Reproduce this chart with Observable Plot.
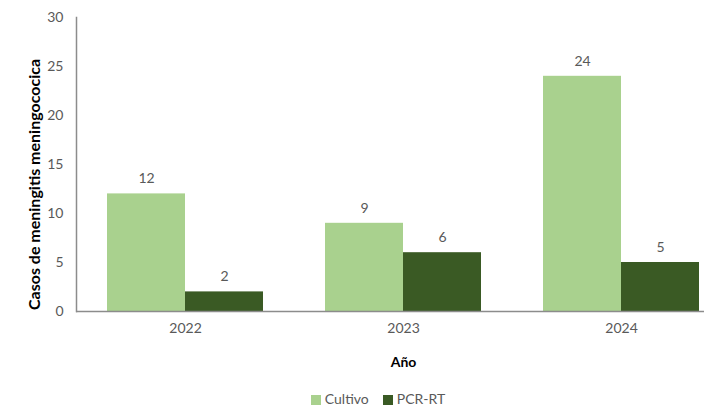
<!DOCTYPE html>
<html>
<head>
<meta charset="utf-8">
<script src="https://cdn.jsdelivr.net/npm/d3@7"></script>
<script src="https://cdn.jsdelivr.net/npm/@observablehq/plot@0.6"></script>
<style>
  html, body { margin: 0; padding: 0; background: white; }
  #wrap { width: 704px; height: 407px; overflow: hidden; position: relative; font-family: Lato, sans-serif; }
  #chart svg { max-width: none !important; }
  #legend { position: absolute; top: 391px; left: 26px; width: 704px; text-align: center; font-size: 14px; color: #595959; line-height: 16px; }
  #legend span.item { display: inline-block; margin: 0 7px; }
  #legend span.sw { display: inline-block; width: 10px; height: 10px; margin-right: 4px; vertical-align: -1px; }
  g[aria-label="y-axis label"] text, g[aria-label="fx-axis label"] text { font-weight: bold; fill: #000; }
  g[aria-label="y-axis label"] text { font-size: 16px; }
</style>
</head>
<body>
<div id="wrap"><div id="chart"></div><div id="legend"></div></div>
<script>
const years = ["2022", "2023", "2024"];
const series = ["Cultivo", "PCR-RT"];
const cultivo = [12, 9, 24];
const pcr = [2, 6, 5];
const colors = ["#a9d18e", "#3a5a24"];
const yTicks = [0, 5, 10, 15, 20, 25, 30];

const data = years.flatMap((y, i) => [
  {year: y, serie: series[0], value: cultivo[i]},
  {year: y, serie: series[1], value: pcr[i]}
]);

const chart = Plot.plot({
  width: 730,
  height: 390,
  marginLeft: 76,
  marginRight: 0,
  marginTop: 17,
  marginBottom: 79,
  style: {fontFamily: "Lato, sans-serif", fontSize: "14px", color: "#595959", background: "white", maxWidth: "none"},
  fx: {domain: years, padding: 0},
  x: {domain: series, paddingInner: 0, paddingOuter: 0.38, axis: null},
  y: {domain: [0, 30], ticks: yTicks},
  color: {domain: series, range: colors},
  marks: [
    Plot.barY(data, {fx: "year", x: "serie", y: "value", fill: "serie"}),
    Plot.text(data, {fx: "year", x: "serie", y: "value", text: d => String(d.value), dy: -15, fill: "#595959"}),
    Plot.ruleY([0], {stroke: "#8c8c8c", strokeWidth: 1.5}),
    Plot.axisY({ticks: yTicks, tickSize: 0, tickPadding: 13, label: "Casos de meningitis meningococica", labelArrow: "none", labelAnchor: "center", labelOffset: 44, fill: "#595959"}),
    Plot.axisFx({anchor: "bottom", tickSize: 0, tickPadding: 12, label: "Año", labelArrow: "none", labelAnchor: "center", labelOffset: 55, fill: "#595959"}),
    Plot.frame({anchor: "left", facetAnchor: "left", stroke: "#8c8c8c", strokeWidth: 1.5})
  ]
});
document.getElementById("chart").appendChild(chart);

// nudge the y-axis title (Excel centres it slightly lower)
const yl = chart.querySelector('g[aria-label="y-axis label"]');
if (yl) yl.setAttribute("transform", (yl.getAttribute("transform") || "") + " translate(-4,20)");

const legend = document.getElementById("legend");
series.forEach((s, i) => {
  const item = document.createElement("span");
  item.className = "item";
  const sw = document.createElement("span");
  sw.className = "sw";
  sw.style.background = colors[i];
  item.appendChild(sw);
  item.appendChild(document.createTextNode(s));
  legend.appendChild(item);
});
</script>
</body>
</html>
